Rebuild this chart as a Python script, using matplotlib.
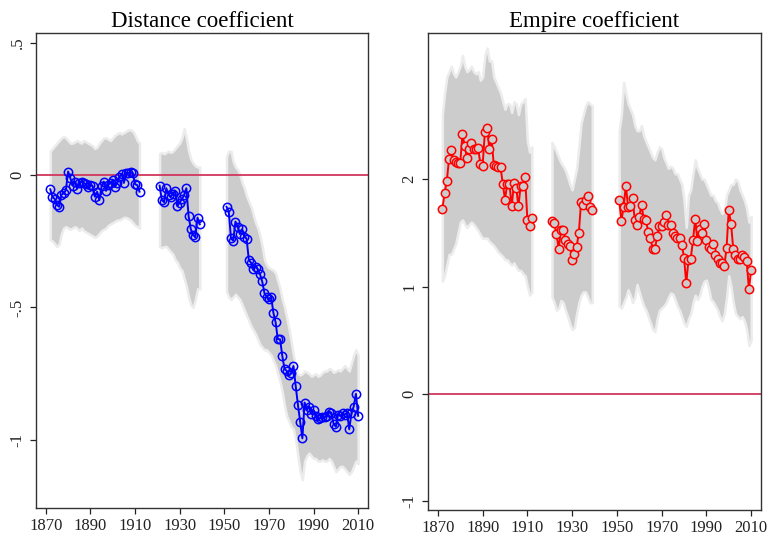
import numpy as np
import matplotlib
matplotlib.use("Agg")
import matplotlib.pyplot as plt

# years with estimates (gaps around the wars)
years = list(range(1872, 1913)) + list(range(1921, 1940)) + list(range(1951, 2011))

# Distance coefficient
dist = [
    -0.054, -0.084, -0.09, -0.113, -0.12, -0.075, -0.068, -0.058, 0.013, -0.012,
    -0.04, -0.025, -0.052, -0.03, -0.025, -0.03, -0.035, -0.047, -0.038, -0.042,
    -0.082, -0.063, -0.095, -0.042, -0.025, -0.06, -0.038, -0.03, -0.02, -0.045,
    -0.03, -0.007, 0.003, -0.03, 0.008, 0.008, 0.01, 0.007, -0.035, -0.038, -0.063,
    -0.040, -0.094, -0.103, -0.05, -0.075, -0.082, -0.07, -0.059, -0.117, -0.104,
    -0.092, -0.075, -0.05, -0.155, -0.205, -0.226, -0.235, -0.161, -0.186,
    -0.12, -0.138, -0.239, -0.248, -0.176, -0.195, -0.223, -0.205, -0.233, -0.24,
    -0.321, -0.331, -0.356, -0.346, -0.356, -0.374, -0.402, -0.446, -0.459, -0.469,
    -0.459, -0.52, -0.556, -0.62, -0.62, -0.683, -0.732, -0.74, -0.756, -0.748,
    -0.721, -0.796, -0.867, -0.931, -0.994, -0.859, -0.887, -0.875, -0.902, -0.887,
    -0.909, -0.922, -0.917, -0.912, -0.914, -0.909, -0.893, -0.897, -0.94, -0.95,
    -0.905, -0.909, -0.9, -0.905, -0.897, -0.96, -0.9, -0.874, -0.826, -0.909,
]
dist_hi = [
    0.09, 0.10, 0.11, 0.12, 0.13, 0.14, 0.145, 0.14, 0.13, 0.12,
    0.12, 0.125, 0.13, 0.125, 0.12, 0.13, 0.125, 0.12, 0.115, 0.11,
    0.10, 0.105, 0.12, 0.13, 0.14, 0.14, 0.135, 0.13, 0.14, 0.15,
    0.155, 0.16, 0.155, 0.16, 0.165, 0.17, 0.17, 0.165, 0.15, 0.13, 0.12,
    0.08, 0.085, 0.08, 0.085, 0.09, 0.085, 0.09, 0.1, 0.11, 0.12,
    0.14, 0.175, 0.14, 0.09, 0.06, 0.045, 0.035, 0.03, 0.03,
    0.07, 0.09, 0.09, 0.05, 0.03, 0.02, 0.0, -0.03, -0.05, -0.08,
    -0.1, -0.12, -0.15, -0.18, -0.2, -0.23, -0.27, -0.32, -0.34, -0.35,
    -0.355, -0.36, -0.37, -0.4, -0.43, -0.47, -0.5, -0.54, -0.58, -0.63,
    -0.68, -0.72, -0.75, -0.755, -0.75, -0.74, -0.745, -0.75, -0.76, -0.755,
    -0.75, -0.76, -0.755, -0.745, -0.74, -0.74, -0.73, -0.735, -0.745, -0.74,
    -0.735, -0.74, -0.73, -0.72, -0.73, -0.74, -0.71, -0.68, -0.66, -0.68,
]
dist_lo = [
    -0.245, -0.25, -0.26, -0.27, -0.26, -0.22, -0.2, -0.195, -0.2, -0.205,
    -0.2, -0.195, -0.2, -0.21, -0.2, -0.21, -0.215, -0.22, -0.225, -0.23,
    -0.235, -0.23, -0.22, -0.21, -0.205, -0.2, -0.19, -0.185, -0.18, -0.175,
    -0.17, -0.17, -0.165, -0.16, -0.16, -0.165, -0.17, -0.18, -0.19, -0.195, -0.2,
    -0.27, -0.275, -0.27, -0.27, -0.28, -0.29, -0.3, -0.32, -0.33, -0.35,
    -0.36, -0.39, -0.42, -0.46, -0.49, -0.5, -0.47, -0.43, -0.43,
    -0.44, -0.46, -0.47, -0.46, -0.45, -0.46, -0.47, -0.49, -0.51, -0.53,
    -0.55, -0.57, -0.585, -0.6, -0.62, -0.64, -0.65, -0.66, -0.66, -0.67,
    -0.68, -0.7, -0.72, -0.75, -0.78, -0.82, -0.87, -0.91, -0.93, -0.95,
    -0.96, -1.0, -1.06, -1.12, -1.15, -1.08, -1.06, -1.05, -1.06, -1.07,
    -1.07, -1.08, -1.08, -1.075, -1.08, -1.08, -1.07, -1.08, -1.1, -1.12,
    -1.11, -1.1, -1.1, -1.11, -1.12, -1.13, -1.12, -1.1, -1.08, -1.09,
]

# Empire coefficient
emp = [
    1.72, 1.87, 1.985, 2.19, 2.27, 2.18, 2.16, 2.15, 2.15, 2.42,
    2.305, 2.195, 2.28, 2.335, 2.28, 2.28, 2.285, 2.14, 2.125, 2.44,
    2.48, 2.28, 2.37, 2.13, 2.12, 2.11, 2.11, 1.957, 1.81, 1.957,
    1.95, 1.745, 1.96, 1.92, 1.745, 1.94, 1.94, 2.015, 1.62, 1.565, 1.64,
    1.606, 1.59, 1.49, 1.35, 1.53, 1.53, 1.435, 1.40, 1.38, 1.25,
    1.30, 1.37, 1.50, 1.79, 1.76, 1.81, 1.84, 1.74, 1.71,
    1.81, 1.61, 1.74, 1.94, 1.74, 1.75, 1.82, 1.615, 1.575, 1.65,
    1.76, 1.63, 1.615, 1.51, 1.45, 1.35, 1.35, 1.47, 1.56, 1.56,
    1.60, 1.67, 1.575, 1.57, 1.50, 1.47, 1.45, 1.45, 1.39, 1.27,
    1.03, 1.25, 1.26, 1.43, 1.63, 1.42, 1.535, 1.50, 1.585, 1.435,
    1.37, 1.35, 1.40, 1.295, 1.255, 1.22, 1.22, 1.19, 1.36, 1.71,
    1.585, 1.35, 1.295, 1.26, 1.255, 1.295, 1.275, 1.235, 0.975, 1.155,
]
emp_hi = [
    2.6, 2.8, 2.95, 3.0, 3.05, 2.98, 2.95, 3.0, 3.05, 3.15,
    3.05, 3.0, 3.02, 3.05, 3.0, 2.98, 3.0, 2.92, 2.95, 3.15,
    3.22, 3.1, 3.1, 2.95, 2.9, 2.85, 2.8, 2.72, 2.65, 2.7,
    2.7, 2.62, 2.72, 2.7, 2.6, 2.7, 2.72, 2.75, 2.35, 2.25, 2.3,
    2.34, 2.3, 2.25, 2.2, 2.15, 2.12, 2.08, 2.02, 1.95, 1.9,
    2.0, 2.1, 2.3, 2.52, 2.6, 2.68, 2.72, 2.7, 2.68,
    2.45, 2.6, 2.9, 2.8, 2.7, 2.65, 2.6, 2.5, 2.45, 2.45,
    2.5, 2.4, 2.35, 2.3, 2.25, 2.2, 2.18, 2.25, 2.3, 2.28,
    2.2, 2.15, 2.1, 2.12, 2.1, 2.05, 2.05, 2.0, 1.95, 1.8,
    1.55, 1.85, 1.9, 2.05, 2.18, 2.1, 2.05, 2.0, 2.0, 1.95,
    1.9, 1.85, 1.85, 1.8, 1.78, 1.72, 1.68, 1.7, 1.85, 1.9,
    1.95, 1.95, 2.0, 1.98, 1.9, 1.85, 1.8, 1.72, 1.6, 1.65,
]
emp_lo = [
    1.05, 1.1, 1.2, 1.3, 1.3, 1.35, 1.4, 1.5, 1.6, 1.62,
    1.58, 1.55, 1.58, 1.6, 1.58, 1.55, 1.52, 1.48, 1.45, 1.45,
    1.45, 1.42, 1.4, 1.38, 1.35, 1.32, 1.3, 1.28, 1.25, 1.25,
    1.22, 1.2, 1.22, 1.18, 1.15, 1.15, 1.12, 1.1, 1.0, 0.92, 0.95,
    0.9, 0.85, 0.78, 0.8, 0.87, 0.85, 0.78, 0.72, 0.65, 0.6,
    0.62, 0.75, 0.85, 0.92, 0.95, 0.95, 0.9, 0.85, 0.85,
    0.82, 0.8, 0.85, 0.9, 0.97, 0.92, 0.85, 0.9, 1.02, 0.95,
    0.88, 0.82, 0.78, 0.72, 0.66, 0.6, 0.58, 0.7, 0.78, 0.8,
    0.82, 0.85, 0.9, 0.94, 0.93, 0.88, 0.82, 0.78, 0.72, 0.66,
    0.63, 0.7, 0.75, 0.85, 0.92, 0.88, 0.92, 1.0, 1.05, 1.06,
    0.98, 0.88, 0.86, 0.82, 0.78, 0.72, 0.68, 0.75, 0.9, 1.1,
    1.0, 0.85, 0.75, 0.72, 0.7, 0.72, 0.68, 0.6, 0.45, 0.5,
]

xticks = [1870, 1890, 1910, 1930, 1950, 1970, 1990, 2010]

plt.rcParams['font.family'] = ['Liberation Serif', 'DejaVu Serif']

yrs = np.array(years)
breaks = np.where(np.diff(yrs) > 1)[0] + 1
segments = np.split(np.arange(len(yrs)), breaks)

BAND = '#cccccc'
FRINGE = '#ececec'
HLINE = '#d1365e'


def panel(ax, coef, lo, hi, color, title, yticks, ylabels, ylim, face):
    coef, lo, hi = np.array(coef), np.array(lo), np.array(hi)
    for idx in segments:
        ax.fill_between(yrs[idx], lo[idx], hi[idx], color=BAND,
                        edgecolor=FRINGE, linewidth=1.8, zorder=1)
    ax.axhline(0, color=HLINE, lw=1.3, zorder=2)
    for idx in segments:
        ax.plot(yrs[idx], coef[idx], color=color, lw=1.4, marker='o',
                ms=6, mfc=face, mec=color, mew=1.1, zorder=3)
    ax.set_xlim(1865.6, 2014.4)
    ax.set_ylim(*ylim)
    ax.set_xticks(xticks)
    ax.set_yticks(yticks)
    ax.set_yticklabels(ylabels, rotation=90, va='center')
    ax.tick_params(direction='out', length=4.5, width=0.9, labelsize=12,
                   colors='#222222', pad=3)
    for s in ax.spines.values():
        s.set_color('#333333')
        s.set_linewidth(1.0)
    ax.set_title(title, fontsize=16.5, pad=4)


fig = plt.figure(figsize=(7.69, 5.40), dpi=100)
ax1 = fig.add_axes([0.0468, 0.0593, 0.4317, 0.8796])
ax2 = fig.add_axes([0.5566, 0.0556, 0.4330, 0.8833])

panel(ax1, dist, dist_lo, dist_hi, '#0000ff', 'Distance coefficient',
      [0.5, 0, -0.5, -1], ['.5', '0', '-.5', '-1'], (-1.257, 0.536), 'none')
panel(ax2, emp, emp_lo, emp_hi, '#ff0000', 'Empire coefficient',
      [2, 1, 0, -1], ['2', '1', '0', '-1'], (-1.08, 3.36), BAND)

fig.savefig('out.png', dpi=100)
